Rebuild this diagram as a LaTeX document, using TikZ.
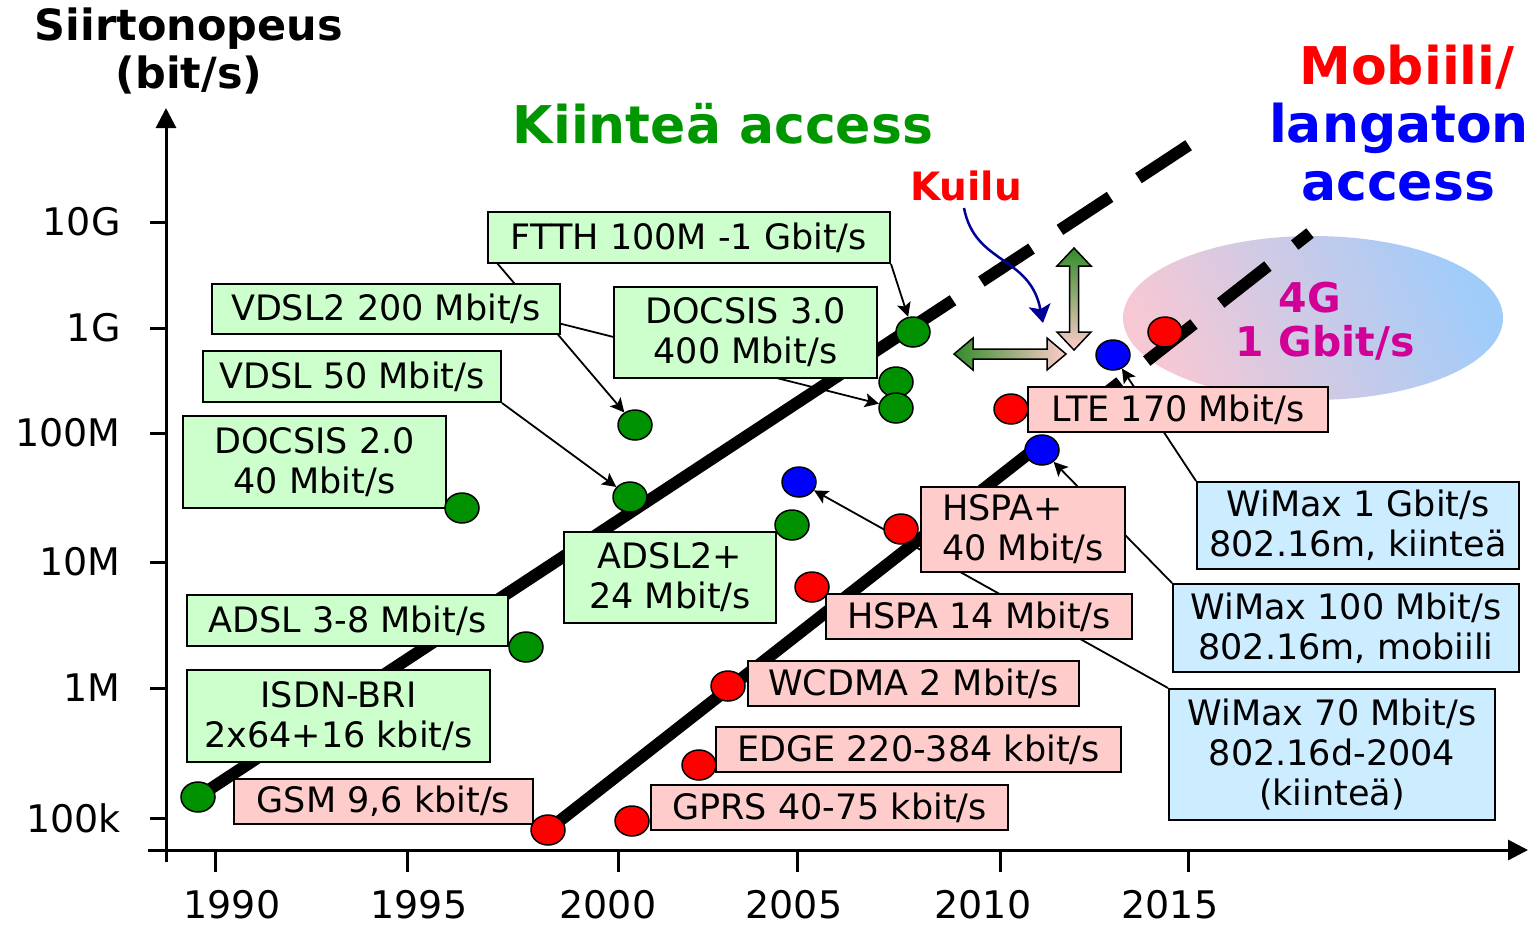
\documentclass[tikz,border=0pt]{standalone}
\usepackage{fontspec}
\setmainfont{DejaVu Sans}
\usetikzlibrary{shapes.geometric, arrows.meta}

\definecolor{fixfill}{RGB}{204,255,204}
\definecolor{mobfill}{RGB}{255,204,204}
\definecolor{wimfill}{RGB}{204,236,255}
\definecolor{fixgreen}{RGB}{0,150,0}
\definecolor{spotgreen}{RGB}{0,145,0}
\definecolor{gapblue}{RGB}{0,0,153}
\definecolor{fourg}{RGB}{210,0,150}
\definecolor{blobpink}{RGB}{246,200,212}
\definecolor{blobblue}{RGB}{160,204,250}
\definecolor{arrowgreen}{RGB}{50,140,40}

\pgfdeclarelayer{back}
\pgfsetlayers{back,main}

\begin{document}
\begin{tikzpicture}[x=0.5pt, y=-0.5pt,
	labelbox/.style={draw, line width=1pt, inner sep=0pt, align=center,
		font=\fontsize{17.5}{20}\selectfont},
	fixbox/.style={labelbox, fill=fixfill},
	mobbox/.style={labelbox, fill=mobfill},
	wimbox/.style={labelbox, fill=wimfill},
	spot/.style={draw, ellipse, line width=0.75pt, inner sep=0pt,
		minimum width=17pt, minimum height=15pt},
	link/.style={line width=0.9pt, -{Stealth[length=7pt, width=7pt, inset=1.5pt]}},
	trend/.style={line width=6pt},
	axisline/.style={line width=1.5pt, -{Triangle[length=10pt, width=10pt]}},
	tickmark/.style={line width=1.5pt},
	bigtitle/.style={font=\fontsize{26}{29}\bfseries, anchor=base},
]
	\useasboundingbox (0,0) rectangle (1536,928);

	% axes
	\draw[axisline] (166,862) -- (166,108);
	\draw[axisline] (148,850) -- (1528,850);
	\foreach \yy/\lab [count=\i] in {222/10G, 328/1G, 433/100M, 562/10M, 688/1M, 818/100k} {
		\draw[tickmark] (150,\yy) -- (166,\yy);
		\node[anchor=east, inner sep=0pt, font=\fontsize{19}{22}\selectfont] (rate\i) at (121,\yy) {\lab};
	}
	\foreach \xx/\xl/\yr in {215/232/1990, 407/419/1995, 618/608/2000, 797/794/2005, 1000/983/2010, 1188/1170/2015} {
		\draw[tickmark] (\xx,850) -- (\xx,872);
		\node[inner sep=0pt, font=\fontsize{19}{22}\selectfont] (year\yr) at (\xl,905) {\yr};
	}

	\node[anchor=base, font=\fontsize{21.5}{24}\bfseries] (ytitle) at (189,40) {Siirtonopeus};
	\node[anchor=base, font=\fontsize{21.5}{24}\bfseries] (yunit) at (189,88) {(bit/s)};

	% fixed access labels
	\node[fixbox, minimum width=201pt, minimum height=25.5pt] (ftth) at (689,237.5) {FTTH 100M -1 Gbit/s};
	\node[fixbox, minimum width=174pt, minimum height=25pt] (vdsltwo) at (386,309) {VDSL2 200 Mbit/s};
	\node[fixbox, minimum width=131.5pt, minimum height=45.5pt] (docsisthree) at (745.5,332.5) {DOCSIS 3.0\\400 Mbit/s};
	\node[fixbox, minimum width=149pt, minimum height=25.5pt] (vdsl) at (352,376.5) {VDSL 50 Mbit/s};
	\node[fixbox, minimum width=131.5pt, minimum height=46pt] (docsistwo) at (314.5,462) {DOCSIS 2.0\\40 Mbit/s};
	\node[fixbox, minimum width=106pt, minimum height=45.5pt] (adsltwo) at (670,577.5) {ADSL2+\\24 Mbit/s};
	\node[fixbox, minimum width=160.5pt, minimum height=25.5pt] (adsl) at (347.5,620.5) {ADSL 3-8 Mbit/s};
	\node[fixbox, minimum width=151.5pt, minimum height=46pt] (isdn) at (338.5,716) {ISDN-BRI\\2x64+16 kbit/s};

	% mobile labels
	\node[mobbox, minimum width=149.5pt, minimum height=22.5pt] (gsm) at (383.5,801.5) {GSM 9,6 kbit/s};
	\node[mobbox, minimum width=178.5pt, minimum height=22.5pt] (gprs) at (829.5,807.5) {GPRS 40-75 kbit/s};
	\node[mobbox, minimum width=202.5pt, minimum height=22.5pt] (edge) at (918.5,749.5) {EDGE 220-384 kbit/s};
	\node[mobbox, minimum width=165.5pt, minimum height=22.5pt] (wcdma) at (913.5,683.5) {WCDMA 2 Mbit/s};
	\node[mobbox, minimum width=153pt, minimum height=22.5pt] (hspa) at (979,616.5) {HSPA 14 Mbit/s};
	\node[mobbox, align=left, minimum width=102pt, minimum height=42.5pt] (hspaplus) at (1023,529.5) {HSPA+\\40 Mbit/s};
	\node[mobbox, minimum width=150pt, minimum height=22.5pt] (lte) at (1178,409.5) {LTE 170 Mbit/s};

	% wimax labels
	\node[wimbox, minimum width=161pt, minimum height=43.5pt] (wimaxg) at (1358,525.5) {WiMax 1 Gbit/s\\802.16m, kiinteä};
	\node[wimbox, minimum width=173pt, minimum height=44pt] (wimaxm) at (1346,628) {WiMax 100 Mbit/s\\802.16m, mobiili};
	\node[wimbox, minimum width=163pt, minimum height=65.5pt] (wimaxd) at (1332,754.5) {WiMax 70 Mbit/s\\802.16d-2004\\(kiinteä)};

	% data points
	\node[spot, fill=spotgreen] (isdndot) at (198,797) {};
	\node[spot, fill=spotgreen] (docsistwodot) at (462,508) {};
	\node[spot, fill=spotgreen] (adsldot) at (526,647) {};
	\node[spot, fill=spotgreen] (vdsldot) at (630,497) {};
	\node[spot, fill=spotgreen] (vdsltwodot) at (635,425) {};
	\node[spot, fill=spotgreen] (adsltwodot) at (792,525) {};
	\node[spot, fill=spotgreen] (docsisthreedot) at (896,382) {};
	\node[spot, fill=spotgreen] (docsisthreebdot) at (896,408) {};
	\node[spot, fill=spotgreen] (ftthdot) at (913,332) {};

	\node[spot, fill=red] (gsmdot) at (548,830) {};
	\node[spot, fill=red] (gprsdot) at (632,821) {};
	\node[spot, fill=red] (edgedot) at (699,765) {};
	\node[spot, fill=red] (wcdmadot) at (728,686) {};
	\node[spot, fill=red] (hspadot) at (812,587) {};
	\node[spot, fill=red] (hspaplusdot) at (901,529) {};
	\node[spot, fill=red] (ltedot) at (1011,409) {};
	\node[spot, fill=red] (fourgdot) at (1165,332) {};

	\node[spot, fill=blue] (wimaxddot) at (799,482) {};
	\node[spot, fill=blue] (wimaxmdot) at (1042,450) {};
	\node[spot, fill=blue] (wimaxgdot) at (1113,355) {};

	\begin{pgfonlayer}{back}
		\shade[left color=blobpink, right color=blobblue, shading angle=115]
			(1313,318) ellipse [x radius=190, y radius=82];

		\coordinate (vdsltwofoot) at (497,263);
		\coordinate (docsisfoot) at (530,316);
		\draw[link] (vdsltwofoot) -- (vdsltwodot);
		\draw[link] (ftth.south east) -- (ftthdot);
		\draw[link] (docsisfoot) -- (docsisthreebdot);
		\draw[link] (vdsl.south east) -- (vdsldot);
		\draw[link] (wimaxd.north west) -- (wimaxddot);
		\draw[link] (wimaxm.north west) -- (wimaxmdot);
		\draw[link] (wimaxg.north west) -- (wimaxgdot);

		% trend lines
		\coordinate (fixgap) at (953,300.2);
		\coordinate (fixend) at (1190,144.3);
		\coordinate (mobgap) at (1046,440);
		\coordinate (mobend) at (1310,233);
		\draw[trend] (isdndot.center) -- (fixgap);
		\draw[trend, dash pattern=on 30pt off 17pt, dash phase=30pt] (fixgap) -- (fixend);
		\draw[trend] (gsmdot.center) -- (mobgap);
		\draw[trend, dash pattern=on 30pt off 17pt, dash phase=30pt] (mobgap) -- (mobend);
	\end{pgfonlayer}

	% gap between fixed and wireless
	\shade[draw, line width=0.75pt, left color=arrowgreen, right color=mobfill]
		(954,354) -- (973,338) -- (973,349) -- (1047,349) -- (1047,338) -- (1066,354)
		-- (1047,370) -- (1047,359) -- (973,359) -- (973,370) -- cycle;
	\shade[draw, line width=0.75pt, top color=arrowgreen, bottom color=mobfill]
		(1074,248) -- (1091,266) -- (1078.5,266) -- (1078.5,332) -- (1091,332) -- (1074,350)
		-- (1057,332) -- (1069.5,332) -- (1069.5,266) -- (1057,266) -- cycle;

	\node[anchor=base, text=red, font=\fontsize{19.5}{22}\bfseries] (kuilu) at (966,200) {Kuilu};
	\coordinate (gapfrom) at (964,208);
	\coordinate (gapto) at (1043,323);
	\draw[gapblue, line width=1.25pt, -{Stealth[length=9pt, width=11pt, inset=2pt]}]
		(gapfrom) .. controls (975,265) and (1030,255) .. (gapto);

	% titles
	\node[bigtitle, text=fixgreen] (fixtitle) at (723,143) {Kiinteä access};
	\node[bigtitle, text=red] (mobtitle) at (1407,84) {Mobiili/};
	\node[bigtitle, text=blue] (wltitle) at (1399,142) {langaton};
	\node[bigtitle, text=blue] (acctitle) at (1398,200) {access};

	\node[anchor=base, text=fourg, font=\fontsize{20.5}{23}\bfseries] (fourgname) at (1310,312) {4G};
	\node[anchor=base, text=fourg, font=\fontsize{20.5}{23}\bfseries] (fourgrate) at (1325,356) {1 Gbit/s};
\end{tikzpicture}
\end{document}
